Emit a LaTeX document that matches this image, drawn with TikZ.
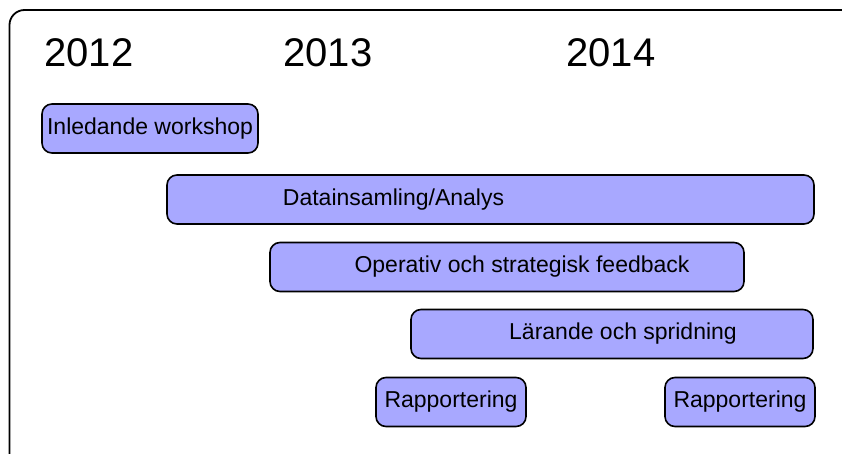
\documentclass[tikz,border=0pt]{standalone}
\usepackage{fontspec}
\setmainfont{Liberation Sans}
\definecolor{barfill}{RGB}{168,168,255}

\begin{document}
\begin{tikzpicture}[x=1pt, y=-1pt,
  year/.style={font=\fontsize{40}{48}\selectfont, inner sep=0pt},
  bar/.style={draw, line width=1.6pt, fill=barfill, rounded corners=10pt,
    minimum height=49pt, inner sep=0pt, font=\fontsize{23}{27}\selectfont},
  every label/.style={font=\fontsize{23}{27}\selectfont, inner sep=0pt}]
\useasboundingbox (0,0) rectangle (842,454);
\draw[line width=1.8pt, rounded corners=15pt] (9.5,10) rectangle (856,475);

\node[year] (Y1) at (89,53)  {2012};
\node[year] (Y2) at (328,53) {2013};
\node[year] (Y3) at (611,53) {2014};

\node[bar, minimum width=216pt] (B1) at (150,128.5) {Inledande workshop};
\node[bar, minimum width=647pt, label={[xshift=-97pt]center:Datainsamling/Analys}] (B2) at (490.5,199.5) {};
\node[bar, minimum width=474pt, label={[xshift=15pt]center:Operativ och strategisk feedback}] (B3) at (507,267) {};
\node[bar, minimum width=402pt, label={[xshift=11pt]center:Lärande och spridning}] (B4) at (612,334) {};
\node[bar, minimum width=150pt] (B5) at (451,402) {Rapportering};
\node[bar, minimum width=150pt] (B6) at (740,402) {Rapportering};
\end{tikzpicture}
\end{document}
